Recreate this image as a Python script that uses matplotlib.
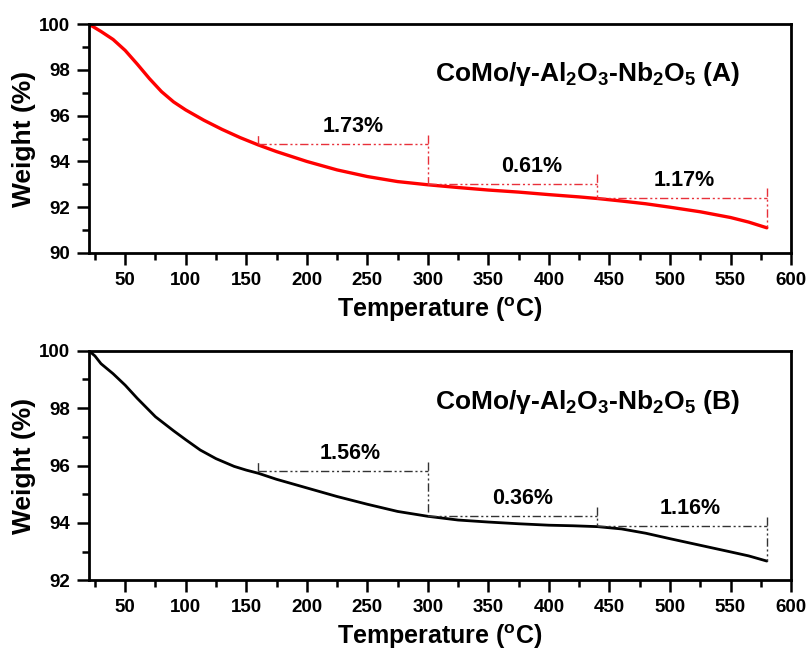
import numpy as np
import matplotlib
matplotlib.use("Agg")
import matplotlib.pyplot as plt

plt.rcParams['font.family'] = ['Liberation Sans', 'DejaVu Sans']
plt.rcParams['font.weight'] = 'bold'
plt.rcParams['mathtext.fontset'] = 'custom'
plt.rcParams['mathtext.rm'] = 'Liberation Sans:bold'
plt.rcParams['mathtext.bf'] = 'Liberation Sans:bold'
plt.rcParams['mathtext.it'] = 'Liberation Sans:bold'

# TGA curves, sample A and sample B
temp_a = [20, 30, 40, 50, 60, 70, 80, 90, 100, 115, 130, 145, 160, 175, 200, 225,
          250, 275, 300, 325, 350, 375, 400, 425, 440, 460, 480, 500, 525, 550, 565, 580]
weight_a = [100.0, 99.68, 99.33, 98.85, 98.25, 97.62, 97.05, 96.6, 96.25, 95.8, 95.4,
            95.04, 94.72, 94.43, 94.0, 93.63, 93.34, 93.12, 92.98, 92.86, 92.75, 92.66,
            92.55, 92.45, 92.38, 92.27, 92.15, 92.0, 91.8, 91.55, 91.35, 91.1]

temp_b = [20, 25, 30, 40, 50, 60, 75, 90, 100, 112, 125, 140, 150, 160, 175, 200, 225,
          250, 275, 300, 325, 350, 375, 400, 420, 440, 460, 480, 500, 525, 550, 565, 580]
weight_b = [100.0, 99.82, 99.55, 99.2, 98.8, 98.34, 97.7, 97.21, 96.9, 96.54, 96.24,
            95.97, 95.84, 95.73, 95.52, 95.22, 94.92, 94.65, 94.4, 94.23, 94.1, 94.03,
            93.97, 93.92, 93.9, 93.87, 93.79, 93.64, 93.45, 93.22, 92.99, 92.85, 92.67]

# weight-loss steps: breakpoints, start level and the losses per interval
steps_t = [160, 300, 440, 580]
start_a = 94.76
loss_a = [1.73, 0.61, 1.17]
start_b = 95.80
loss_b = [1.56, 0.36, 1.16]
label_t_a = [238, 386, 512]
label_t_b = [236, 378, 517]

titles = [r'CoMo/γ-Al$_2$O$_3$-Nb$_2$O$_5$ (A)', r'CoMo/γ-Al$_2$O$_3$-Nb$_2$O$_5$ (B)']

fig = plt.figure(figsize=(8.08, 6.52), dpi=100)
ax_a = fig.add_axes([0.110, 0.612, 0.869, 0.351])
ax_b = fig.add_axes([0.110, 0.110, 0.869, 0.352])

dash = (0, (6, 2, 1.5, 2, 1.5, 2))


def draw_panel(ax, t, w, color, lw, ylim, yticks, start, losses, label_t, dcolor, title, title_y):
    ax.plot(t, w, color=color, lw=lw, solid_capstyle='round')
    ax.set_xlim(20, 600)
    ax.set_ylim(*ylim)
    ext = 0.04 * (ylim[1] - ylim[0])

    levels = [start]
    for loss in losses:
        levels.append(levels[-1] - loss)
    # short tick at the first breakpoint
    ax.plot([steps_t[0], steps_t[0]], [start, start + ext], color=dcolor, lw=1, ls=dash)
    for i, loss in enumerate(losses):
        t0, t1 = steps_t[i], steps_t[i + 1]
        lev = levels[i]
        ax.plot([t0, t1], [lev, lev], color=dcolor, lw=1, ls=dash)
        bottom = min(levels[i + 1], np.interp(t1, t, w))
        ax.plot([t1, t1], [lev + ext, bottom], color=dcolor, lw=1, ls=dash)
        ax.text(label_t[i], lev + 0.03 * (ylim[1] - ylim[0]), f'{loss:.2f}%',
                ha='center', va='bottom', fontsize=15.5, fontweight='bold')

    ax.text(432, title_y, title, ha='center', va='center', fontsize=19, fontweight='bold')

    ax.set_xticks(np.arange(50, 601, 50))
    ax.set_xticks(np.arange(25, 600, 50), minor=True)
    ax.set_yticks(yticks)
    ax.set_yticks(np.arange(ylim[0] + 1, ylim[1], 2), minor=True)
    ax.tick_params(which='major', direction='out', length=8.5, width=1.8, labelsize=13.5, pad=5)
    ax.tick_params(which='minor', direction='out', length=5, width=1.8)
    ax.tick_params(top=False, right=False, which='both')
    for lab in ax.get_xticklabels() + ax.get_yticklabels():
        lab.set_fontweight('bold')
    for sp in ax.spines.values():
        sp.set_linewidth(2)

    ax.set_xlabel(r'Temperature ($^{\rm o}$C)', fontsize=18, fontweight='bold')
    ax.set_ylabel('Weight (%)', fontsize=19, fontweight='bold')
    ax.xaxis.set_label_coords(0.5, -0.185)
    ax.yaxis.set_label_coords(-0.075, 0.5)


draw_panel(ax_a, temp_a, weight_a, '#ff0000', 2.4, (90, 100), np.arange(90, 101, 2),
           start_a, loss_a, label_t_a, '#e8303a', titles[0], 97.82)
draw_panel(ax_b, temp_b, weight_b, '#000000', 2.0, (92, 100), np.arange(92, 101, 2),
           start_b, loss_b, label_t_b, '#333333', titles[1], 98.22)

fig.savefig('out.png', dpi=100)
